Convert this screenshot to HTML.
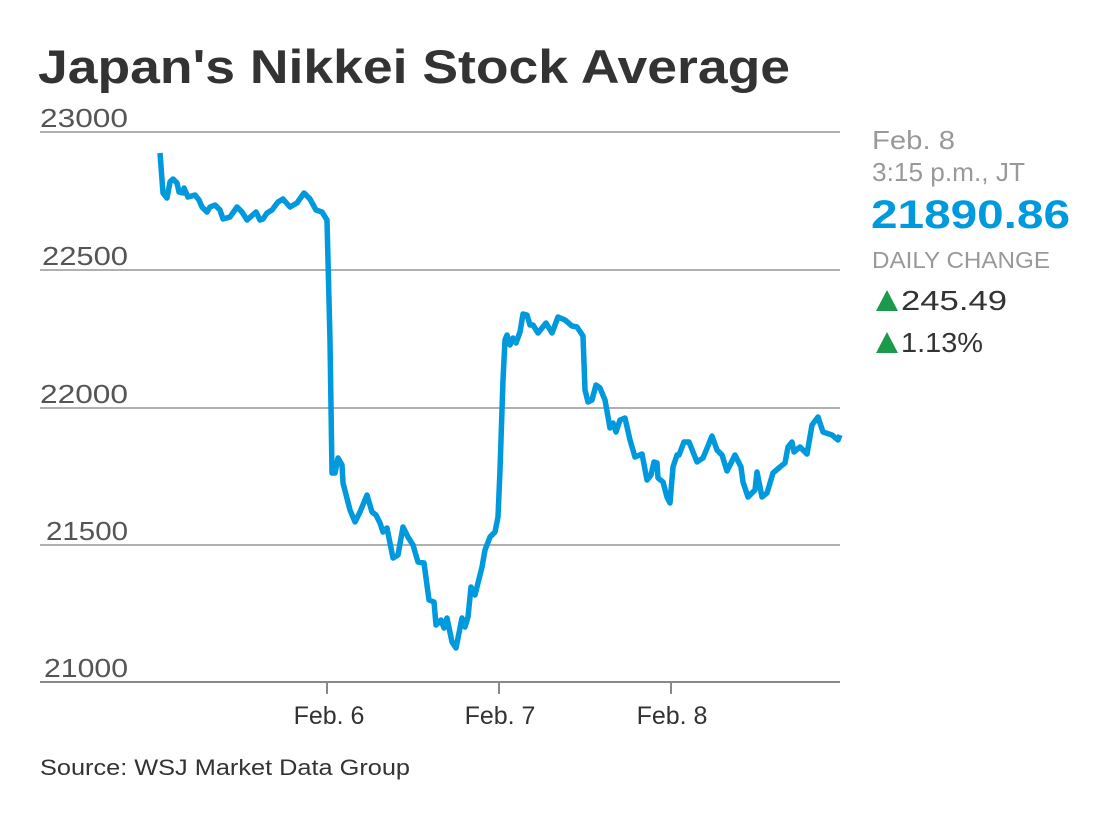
<!DOCTYPE html>
<html><head><meta charset="utf-8"><style>
body{margin:0;background:#fff;width:1107px;height:832px;overflow:hidden;font-family:"Liberation Sans",sans-serif;}
</style></head><body>
<svg width="1107" height="832" xmlns="http://www.w3.org/2000/svg" font-family="Liberation Sans, sans-serif">
<text x="38" y="83" font-size="47" font-weight="bold" fill="#333" textLength="752" lengthAdjust="spacingAndGlyphs">Japan's Nikkei Stock Average</text>
<g stroke="#b0b0b0" stroke-width="2">
<line x1="40" y1="132" x2="840" y2="132"/>
<line x1="40" y1="270" x2="840" y2="270"/>
<line x1="40" y1="408" x2="840" y2="408"/>
<line x1="40" y1="545" x2="840" y2="545"/>
</g>
<line x1="40" y1="682" x2="840" y2="682" stroke="#888" stroke-width="2"/>
<g stroke="#888" stroke-width="2">
<line x1="327" y1="682" x2="327" y2="694"/>
<line x1="499" y1="682" x2="499" y2="694"/>
<line x1="671" y1="682" x2="671" y2="694"/>
</g>
<g font-size="26" fill="#555">
<text x="40" y="127" textLength="88" lengthAdjust="spacingAndGlyphs">23000</text>
<text x="42" y="265" textLength="86" lengthAdjust="spacingAndGlyphs">22500</text>
<text x="40" y="403" textLength="88" lengthAdjust="spacingAndGlyphs">22000</text>
<text x="46" y="540" textLength="82" lengthAdjust="spacingAndGlyphs">21500</text>
<text x="44" y="677" textLength="84" lengthAdjust="spacingAndGlyphs">21000</text>
</g>
<g font-size="25" fill="#333" text-anchor="middle">
<text x="329" y="724">Feb. 6</text>
<text x="500" y="724">Feb. 7</text>
<text x="672" y="724">Feb. 8</text>
</g>
<polyline fill="none" stroke="#0099dd" stroke-width="5.5" stroke-linejoin="round" points="160,153 163,193 167,198 170,182 173,179 177,183 179,192 183,193 184,188 188,197 195,195 199,200 202,207 207,212 210,207 215,205 220,210 223,219 230,217 237,207 242,212 247,220 256,212 260,220 263,219 267,213 272,210 278,202 283,199 290,207 297,203 304,193 310,199 316,210 322,212 327,220 330,340 332,473 335,473 338,458 342,465 343,483 350,510 355,522 360,512 367,495 372,512 376,515 380,523 383,532 387,528 393,558 398,555 403,527 408,537 413,545 418,562 424,563 429,600 434,602 436,625 441,620 444,628 447,618 452,642 456,648 462,618 465,627 468,617 471,587 475,595 482,567 485,550 490,537 495,532 498,517 500,470 503,380 505,340 507,335 510,345 513,338 516,343 520,332 523,314 527,315 530,325 533,325 538,333 546,323 552,333 558,317 565,320 572,326 577,327 583,336 585,390 588,402 592,400 596,385 600,388 605,400 610,428 613,423 616,432 620,420 625,418 630,440 635,457 642,454 647,480 651,475 654,462 657,463 658,478 663,482 667,497 670,503 673,467 677,455 679,455 684,442 689,442 697,462 703,458 712,436 717,450 722,455 727,471 735,455 741,467 743,482 748,497 755,490 757,472 762,497 767,493 773,473 780,467 785,463 788,447 792,442 794,452 800,447 807,454 812,425 818,417 823,432 832,435 838,440 840,435"/>
<g font-size="26" fill="#999">
<text x="872" y="149" textLength="83" lengthAdjust="spacingAndGlyphs">Feb. 8</text>
<text x="872" y="181" textLength="153" lengthAdjust="spacingAndGlyphs">3:15 p.m., JT</text>
</g>
<text x="871" y="228" font-size="40" font-weight="bold" fill="#0099dd" textLength="199" lengthAdjust="spacingAndGlyphs">21890.86</text>
<text x="872" y="268" font-size="23" fill="#999" textLength="178" lengthAdjust="spacingAndGlyphs">DAILY CHANGE</text>
<polygon points="876,311 887,290 898,311" fill="#1a9a4a"/>
<text x="901" y="310" font-size="28" fill="#333" textLength="106" lengthAdjust="spacingAndGlyphs">245.49</text>
<polygon points="876,353 887,332 898,353" fill="#1a9a4a"/>
<text x="901" y="352" font-size="28" fill="#333" textLength="82" lengthAdjust="spacingAndGlyphs">1.13%</text>
<text x="40" y="775" font-size="22" fill="#333" textLength="370" lengthAdjust="spacingAndGlyphs">Source: WSJ Market Data Group</text>
</svg>
</body></html>
